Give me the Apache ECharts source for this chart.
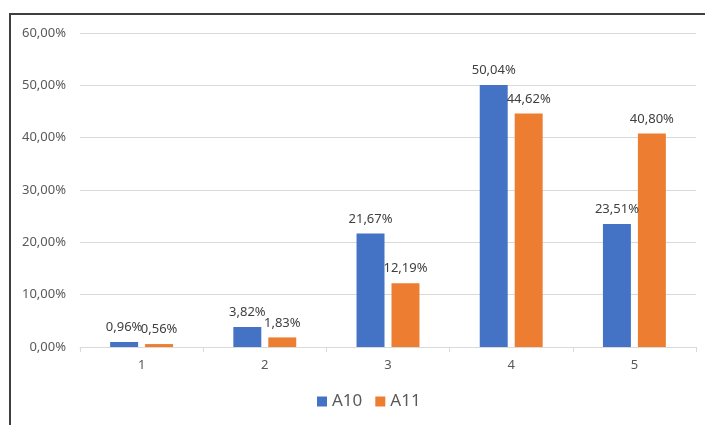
<!DOCTYPE html>
<html>
<head>
<meta charset="utf-8">
<script src="https://cdn.jsdelivr.net/npm/echarts@6/dist/echarts.min.js"></script>
<style>
html,body{margin:0;padding:0;background:#fff;}
#main{width:705px;height:425px;}
</style>
</head>
<body>
<div id="main"></div>
<script>
// categories and values (percent)
var categories=["1","2","3","4","5"];
var a10=[0.96,3.82,21.67,50.04,23.51];
var a11=[0.56,1.83,12.19,44.62,40.80];
var yTicks=[0,10,20,30,40,50,60];

function pct(v){
    return v.toFixed(2).replace(".",",")+"%";
}

var myChart=echarts.init(document.getElementById("main"));
var fontFam="'Noto Sans', sans-serif";
var option={
    animation:false,
    textStyle:{fontFamily:fontFam},
    graphic:[{
        type:"rect",
        shape:{x:10,y:14,width:800,height:500},
        style:{fill:"none",stroke:"#3f3f3f",lineWidth:2},
        silent:true
    }],
    grid:{left:80,right:9,top:33,bottom:78},
    legend:{
        data:["A10","A11"],
        bottom:10,
        left:312,
        itemWidth:10,
        itemHeight:10,
        itemGap:13,
        icon:"rect",
        textStyle:{fontSize:17,color:"#595959",fontFamily:fontFam}
    },
    xAxis:{
        type:"category",
        data:categories,
        axisLine:{lineStyle:{color:"#d9d9d9",width:1}},
        axisTick:{show:true,length:5,lineStyle:{color:"#d9d9d9"}},
        axisLabel:{color:"#595959",fontSize:13,margin:12}
    },
    yAxis:{
        type:"value",
        min:yTicks[0],
        max:yTicks[yTicks.length-1],
        interval:10,
        axisLine:{show:false},
        axisTick:{show:false},
        splitLine:{lineStyle:{color:"#d9d9d9"}},
        axisLabel:{color:"#595959",fontSize:13,margin:14,formatter:pct}
    },
    series:[
        {
            name:"A10",
            type:"bar",
            data:a10,
            barWidth:"22.7%",
            barGap:"25%",
            itemStyle:{color:"#4472c4"},
            label:{show:true,position:"top",distance:8,color:"#404040",fontSize:13,
                formatter:function(p){return pct(p.value);}}
        },
        {
            name:"A11",
            type:"bar",
            data:a11,
            barWidth:"22.7%",
            itemStyle:{color:"#ed7d31"},
            label:{show:true,position:"top",distance:8,color:"#404040",fontSize:13,
                formatter:function(p){return pct(p.value);}}
        }
    ]
};
myChart.setOption(option);
</script>
</body>
</html>
